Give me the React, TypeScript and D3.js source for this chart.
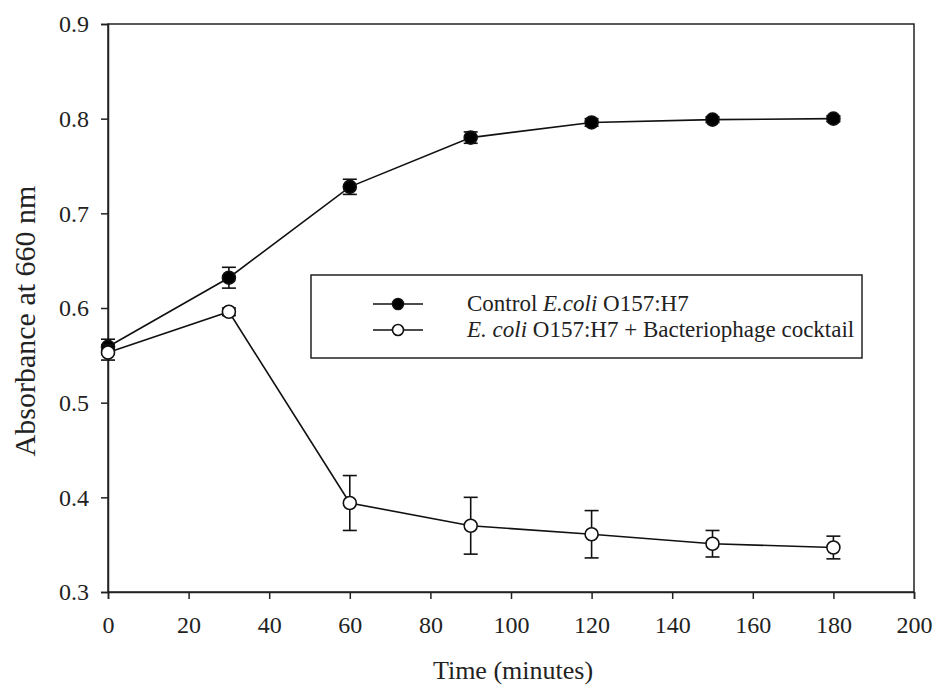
import * as d3 from 'd3';
import { useEffect, useRef } from 'react';

const times = [0, 30, 60, 90, 120, 150, 180];
const controlMean = [0.559, 0.632, 0.728, 0.780, 0.796, 0.799, 0.800];
const controlErr = [0.008, 0.011, 0.008, 0.006, 0.004, 0.003, 0.003];
const phageMean = [0.553, 0.596, 0.394, 0.370, 0.361, 0.351, 0.347];
const phageErr = [0.008, 0.004, 0.029, 0.030, 0.025, 0.014, 0.012];
const xTicks = [0, 20, 40, 60, 80, 100, 120, 140, 160, 180, 200];
const yTicks = [0.3, 0.4, 0.5, 0.6, 0.7, 0.8, 0.9];

const FONT = '"Liberation Serif", "Times New Roman", serif';

const App = () => {
  const ref = useRef<SVGSVGElement>(null);

  useEffect(() => {
    const svg = d3.select(ref.current);
    svg.selectAll('*').remove();

    const width = 937;
    const height = 686;
    const margin = { top: 24, right: 23, bottom: 94, left: 108 };

    const x = d3.scaleLinear().domain([0, 200]).range([margin.left, width - margin.right]);
    const y = d3.scaleLinear().domain([0.3, 0.9]).range([height - margin.bottom, margin.top]);

    // frame
    svg.append('rect')
      .attr('x', x(0)).attr('y', y(0.9))
      .attr('width', x(200) - x(0)).attr('height', y(0.3) - y(0.9))
      .attr('fill', 'none').attr('stroke', '#222').attr('stroke-width', 1.5);

    const xAxis = svg.append('g')
      .attr('transform', `translate(0, ${y(0.3)})`)
      .call(d3.axisBottom(x).tickValues(xTicks).tickSize(7).tickPadding(17).tickFormat(d3.format('d')));
    const yAxis = svg.append('g')
      .attr('transform', `translate(${x(0)}, 0)`)
      .call(d3.axisLeft(y).tickValues(yTicks).tickSize(7).tickPadding(12).tickFormat(d3.format('.1f')));

    [xAxis, yAxis].forEach(ax => {
      ax.select('.domain').attr('stroke', '#222').attr('stroke-width', 1.5);
      ax.selectAll('line').attr('stroke', '#222').attr('stroke-width', 1.5);
      ax.selectAll('text').attr('fill', '#222').style('font-family', FONT).style('font-size', '24px');
    });

    // axis titles
    svg.append('text')
      .attr('x', 513).attr('y', 679)
      .attr('text-anchor', 'middle').attr('fill', '#222')
      .style('font-family', FONT).style('font-size', '26px')
      .text('Time (minutes)');
    svg.append('text')
      .attr('transform', `translate(35, 321) rotate(-90)`)
      .attr('text-anchor', 'middle').attr('fill', '#222')
      .style('font-family', FONT).style('font-size', '30px')
      .text('Absorbance at 660 nm');

    const series = [
      { mean: controlMean, err: controlErr, fill: '#000' },
      { mean: phageMean, err: phageErr, fill: '#fff' },
    ];

    const line = d3.line<number>().x((_, i) => x(times[i])).y(d => y(d));

    series.forEach(s => {
      svg.append('path')
        .attr('d', line(s.mean))
        .attr('fill', 'none').attr('stroke', '#111').attr('stroke-width', 1.6);

      const g = svg.append('g');
      s.mean.forEach((m, i) => {
        const cx = x(times[i]);
        const top = y(m + s.err[i]);
        const bot = y(m - s.err[i]);
        g.append('line').attr('x1', cx).attr('x2', cx).attr('y1', top).attr('y2', bot)
          .attr('stroke', '#111').attr('stroke-width', 1.6);
        [top, bot].forEach(yy => {
          g.append('line').attr('x1', cx - 7).attr('x2', cx + 7).attr('y1', yy).attr('y2', yy)
            .attr('stroke', '#111').attr('stroke-width', 1.6);
        });
      });
      s.mean.forEach((m, i) => {
        g.append('circle').attr('cx', x(times[i])).attr('cy', y(m)).attr('r', 6.5)
          .attr('fill', s.fill).attr('stroke', '#111').attr('stroke-width', 1.6);
      });
    });

    // legend
    const legend = svg.append('g');
    legend.append('rect')
      .attr('x', 311).attr('y', 275).attr('width', 551).attr('height', 83)
      .attr('fill', '#fff').attr('stroke', '#222').attr('stroke-width', 1.5);

    const entries = [
      { fill: '#000', parts: [['Control ', false], ['E.coli', true], [' O157:H7', false]] },
      { fill: '#fff', parts: [['E. coli', true], [' O157:H7 + Bacteriophage cocktail', false]] },
    ];
    entries.forEach((e, i) => {
      const ly = 304 + i * 26;
      legend.append('line').attr('x1', 373).attr('x2', 423).attr('y1', ly).attr('y2', ly)
        .attr('stroke', '#111').attr('stroke-width', 1.6);
      legend.append('circle').attr('cx', 398).attr('cy', ly).attr('r', 5.5)
        .attr('fill', e.fill).attr('stroke', '#111').attr('stroke-width', 1.6);
      const t = legend.append('text')
        .attr('x', 467).attr('y', ly + 7).attr('fill', '#222')
        .style('font-family', FONT).style('font-size', '23px');
      e.parts.forEach(([txt, it]) => {
        t.append('tspan').style('font-style', it ? 'italic' : 'normal').text(txt as string);
      });
    });
  }, []);

  return (
    <svg
      ref={ref}
      width={937}
      height={686}
      style={{ position: 'fixed', top: 0, left: 0, background: '#fff' }}
    />
  );
};

export default App;
